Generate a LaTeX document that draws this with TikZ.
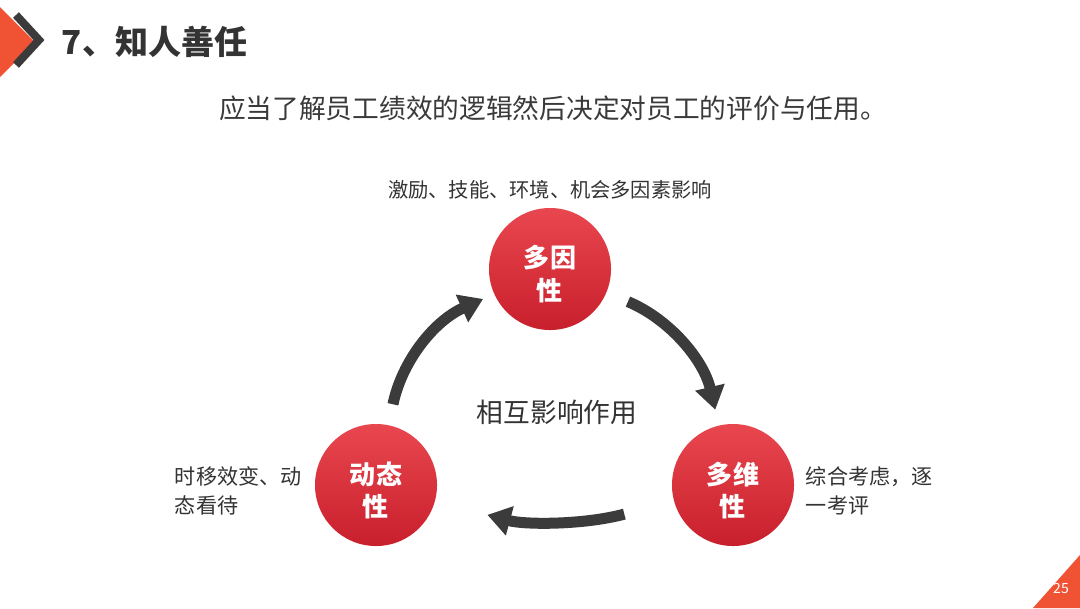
\documentclass[tikz,border=0pt]{standalone}
\usepackage{fontspec}
\newfontfamily\cjk{Noto Sans CJK SC}
\usetikzlibrary{arrows.meta}
\definecolor{accentFill}{HTML}{F05234}
\definecolor{darkStroke}{HTML}{3B3B3B}
\definecolor{ballTop}{HTML}{E9474F}
\definecolor{ballBottom}{HTML}{C81F2C}
\definecolor{textDark}{HTML}{333333}
\definecolor{textMid}{HTML}{3A3A3A}

\begin{document}
\begin{tikzpicture}[
  x=0.025cm,y=-0.025cm,font=\cjk,text=textDark,
  >={Triangle[length=5.8mm,width=7.2mm]},
  ball/.style={circle,minimum size=3.05cm,inner sep=0pt,top color=ballTop,bottom color=ballBottom},
  balltext/.style={text=white,align=center,yshift=-0.13cm,font=\cjk\bfseries\fontsize{18.5}{23}\selectfont},
  arw/.style={->,line width=0.275cm,draw=darkStroke},
  note/.style={font=\cjk\fontsize{14.4}{18}\selectfont},
  side/.style={anchor=west,align=left,font=\cjk\fontsize{15}{20.6}\selectfont}
]
\useasboundingbox (0,0) rectangle (1080,608);
\fill[white] (0,0) rectangle (1080,608);
% corner marks of the slide
\fill[accentFill] (0,7) -- (35,42) -- (0,77) -- cycle;
\draw[darkStroke,line width=0.2cm,miter limit=10] (16,15) -- (39,40) -- (16,65);
\fill[accentFill] (1033,608) -- (1080,555) -- (1080,608) -- cycle;
\node[text=white,font=\cjk\fontsize{10}{12}\selectfont] (page) at (1061,588) {25};
\node[anchor=west,font=\cjk\bfseries\fontsize{23.5}{28}\selectfont] (title) at (57,42) {7、知人善任};
\node[text=textMid,font=\cjk\fontsize{19}{23}\selectfont] (lead) at (553,108) {应当了解员工绩效的逻辑然后决定对员工的评价与任用。};
\node[ball,label={[balltext]center:多因\\性}] (multi) at (550,269) {};
\node[ball,label={[balltext]center:多维\\性}] (dim) at (733,485) {};
\node[ball,label={[balltext]center:动态\\性}] (dyn) at (376,485) {};
\draw[arw,shorten <=0.53cm,shorten >=0.3cm] (dyn) to[bend left=27] (multi);
\draw[arw,shorten <=0.58cm,shorten >=0.4cm] (multi) to[bend left=27] (dim);
\draw[arw,shorten <=1.28cm,shorten >=1.35cm] (dim) to[bend left=15] (dyn);
\node[note] (factors) at (550,190) {激励、技能、环境、机会多因素影响};
\node[font=\cjk\fontsize{19}{23}\selectfont] (mutual) at (557,412) {相互影响作用};
\node[side] (dynnote) at (170,491) {时移效变、动\\态看待};
\node[side] (dimnote) at (801,491) {综合考虑，逐\\一考评};
\end{tikzpicture}
\end{document}
